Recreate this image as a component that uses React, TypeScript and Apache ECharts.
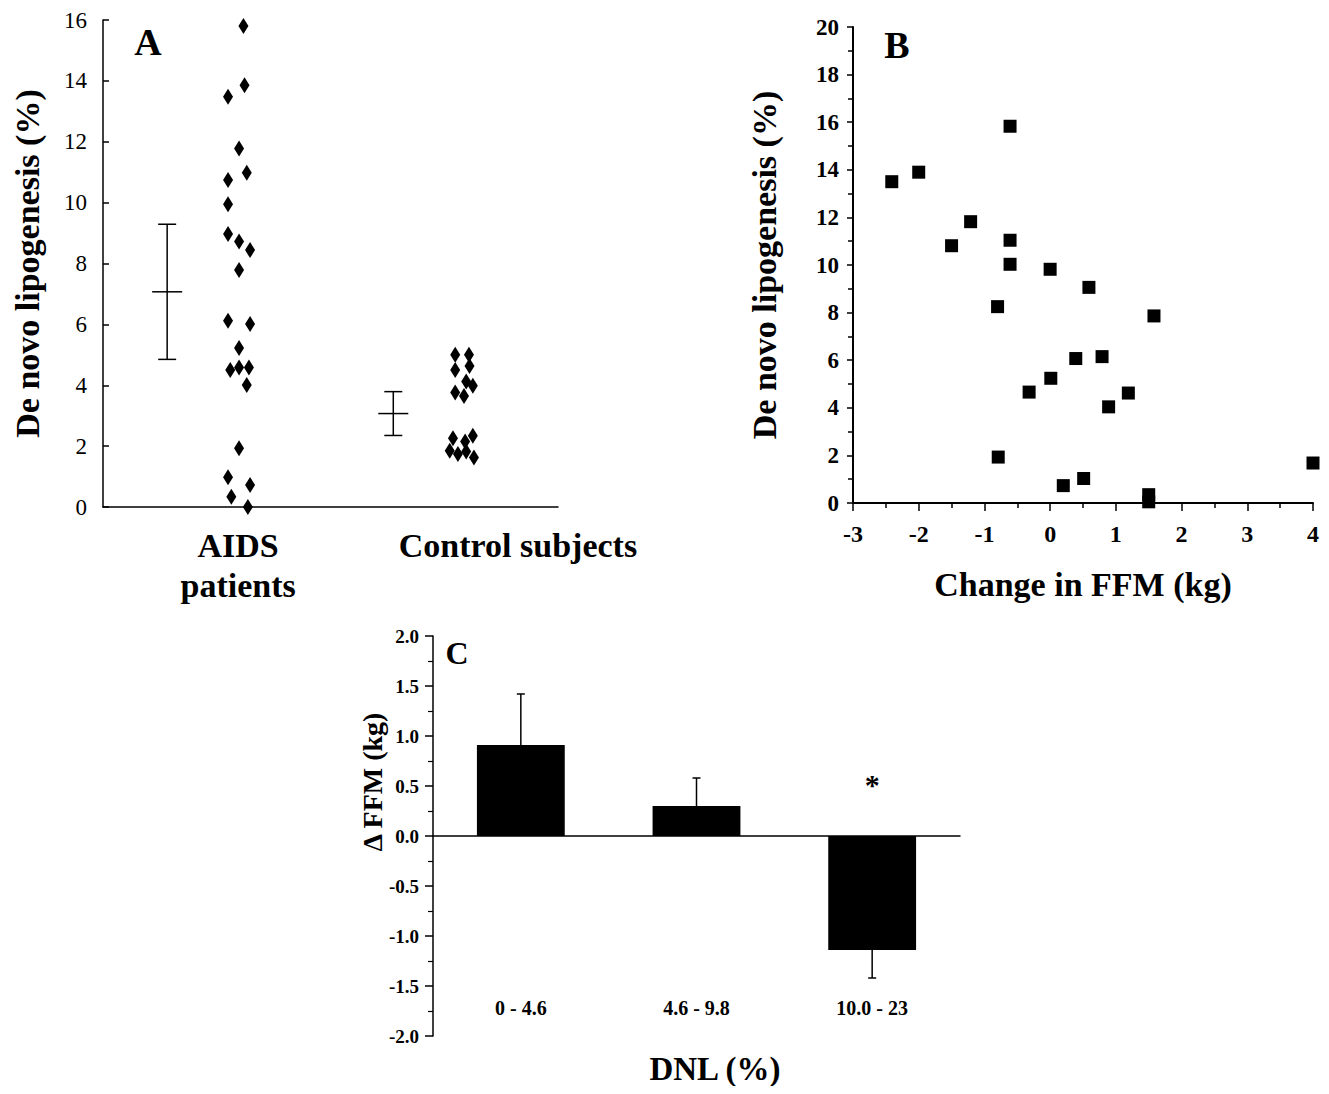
import React, { useEffect, useRef } from "react";
import * as echarts from "echarts";

const FONT = '"Liberation Serif", "Times New Roman", Times, serif';

// ---------- Panel A: DNL by group (dot plot) ----------
const groupNames = ["AIDS\npatients", "Control subjects"];
const aidsDnl = [15.8, 13.86, 13.48, 11.78, 10.98, 10.74, 9.95, 8.97, 8.72, 8.44, 7.79, 6.12, 6.01, 5.22, 4.5, 4.58, 4.58, 4.01, 1.93, 0.98, 0.72, 0.34, 0.0];
const aidsColumn = [0.4, 0.5, -1, 0, 0.7, -1, -1, -1, 0, 1, 0, -1, 1, 0, -0.8, 0, 0.9, 0.7, 0, -1, 1, -0.7, 0.8];
const controlDnl = [5.0, 5.0, 4.5, 4.63, 4.12, 3.98, 3.76, 3.65, 2.26, 2.34, 2.15, 1.85, 1.74, 1.82, 1.63];
const controlColumn = [-0.7, 0.55, -0.7, 0.6, 0.3, 0.9, -0.7, 0.1, -0.9, 0.9, 0.2, -1.2, -0.45, 0.3, 1.0];
const groupMean = [7.07, 3.07];
const groupSd = [2.22, 0.72];
const aTickValues = [0, 2, 4, 6, 8, 10, 12, 14, 16];

// ---------- Panel B: DNL vs change in FFM ----------
const ffmChange = [-2.41, -2.0, -0.61, -1.21, -1.5, -0.61, -0.61, 0.0, 0.59, -0.8, 1.58, 0.39, 0.79, 0.01, -0.32, 1.19, 0.89, -0.79, 4.0, 0.51, 0.2, 1.5, 1.5];
const dnlB = [13.5, 13.9, 15.83, 11.82, 10.81, 11.04, 10.03, 9.82, 9.06, 8.25, 7.86, 6.07, 6.15, 5.24, 4.66, 4.62, 4.04, 1.93, 1.68, 1.03, 0.73, 0.35, 0.05];

// ---------- Panel C: change in FFM by DNL tertile ----------
const dnlBins = ["0 - 4.6", "4.6 - 9.8", "10.0 - 23"];
const ffmMean = [0.91, 0.3, -1.14];
const ffmErr = [0.51, 0.28, 0.28];
const significance = ["", "", "*"];

// layout of panel A's horizontal (unit-less) axis
const A_X_MAX = 10;
const groupDotX = [2.99, 7.91];
const groupBarX = [1.41, 6.38];
const groupLabelX = [2.97, 9.12];
const COL_STEP = 0.242;

export default function App() {
  const ref = useRef<HTMLDivElement>(null);

  useEffect(() => {
    if (!ref.current) return;
    const chart = echarts.init(ref.current, null, { renderer: "svg" });

    const aidsPoints = aidsDnl.map((v, i) => [groupDotX[0] + aidsColumn[i] * COL_STEP, v]);
    const controlPoints = controlDnl.map((v, i) => [groupDotX[1] + controlColumn[i] * COL_STEP, v]);
    const bPoints = ffmChange.map((x, i) => [x, dnlB[i]]);

    const black = "#000";
    const axisLineStyle = (w: number) => ({ show: true, onZero: false, lineStyle: { color: black, width: w } });

    const option: any = {
      animation: false,
      backgroundColor: "#fff",
      textStyle: { fontFamily: FONT, color: black },
      grid: [
        { left: 95, top: 12, width: 455, height: 487, outerBoundsMode: "none", containLabel: false },
        { left: 845, top: 19, width: 460, height: 476, outerBoundsMode: "none", containLabel: false },
        { left: 425, top: 628, width: 527, height: 400, outerBoundsMode: "none", containLabel: false },
      ],
      xAxis: [
        {
          gridIndex: 0,
          type: "value",
          min: 0,
          max: A_X_MAX,
          axisLine: axisLineStyle(1.5),
          axisTick: { show: false },
          splitLine: { show: false },
          axisLabel: {
            customValues: groupLabelX,
            formatter: (v: number) => {
              let best = 0;
              groupLabelX.forEach((g, i) => {
                if (Math.abs(g - v) < Math.abs(groupLabelX[best] - v)) best = i;
              });
              return groupNames[best];
            },
            fontFamily: FONT,
            fontWeight: "bold",
            fontSize: 34,
            lineHeight: 40,
            color: black,
            margin: 18,
          },
        },
        {
          gridIndex: 1,
          type: "value",
          min: -3,
          max: 4,
          interval: 1,
          axisLine: axisLineStyle(2),
          axisTick: { show: true, length: 8, lineStyle: { color: black, width: 1.5 } },
          minorTick: { show: true, splitNumber: 2, length: 5, lineStyle: { color: black, width: 1.5 } },
          splitLine: { show: false },
          axisLabel: { fontFamily: FONT, fontWeight: "bold", fontSize: 24, color: black, margin: 19 },
          name: "Change in FFM (kg)",
          nameLocation: "middle",
          nameGap: 64,
          nameTextStyle: { fontFamily: FONT, fontWeight: "bold", fontSize: 34, color: black },
        },
        {
          // category labels of panel C, sitting inside the plot near its bottom
          gridIndex: 2,
          type: "category",
          data: dnlBins,
          position: "bottom",
          offset: -40,
          axisLine: { show: false, onZero: false },
          axisTick: { show: false },
          splitLine: { show: false },
          axisLabel: { fontFamily: FONT, fontWeight: "bold", fontSize: 20, color: black, margin: 2 },
        },
        {
          // zero line of panel C
          gridIndex: 2,
          type: "category",
          data: dnlBins,
          axisLine: { show: true, onZero: true, lineStyle: { color: black, width: 1.5 } },
          axisTick: { show: false },
          axisLabel: { show: false },
          splitLine: { show: false },
        },
      ],
      yAxis: [
        {
          gridIndex: 0,
          type: "value",
          min: aTickValues[0],
          max: aTickValues[aTickValues.length - 1],
          interval: 2,
          axisLine: axisLineStyle(1.5),
          axisTick: { show: true, inside: true, length: 6, lineStyle: { color: black, width: 1.5 } },
          splitLine: { show: false },
          axisLabel: { fontFamily: FONT, fontSize: 23, color: black, margin: 16 },
          name: "De novo lipogenesis (%)",
          nameLocation: "middle",
          nameGap: 59,
          nameTextStyle: { fontFamily: FONT, fontWeight: "bold", fontSize: 34, color: black },
        },
        {
          gridIndex: 1,
          type: "value",
          min: 0,
          max: 20,
          interval: 2,
          axisLine: axisLineStyle(2),
          axisTick: { show: true, length: 6, lineStyle: { color: black, width: 1.5 } },
          minorTick: { show: true, splitNumber: 2, length: 5, lineStyle: { color: black, width: 1.5 } },
          splitLine: { show: false },
          axisLabel: { fontFamily: FONT, fontWeight: "bold", fontSize: 23, color: black, margin: 14 },
          name: "De novo lipogenesis (%)",
          nameLocation: "middle",
          nameGap: 72,
          nameTextStyle: { fontFamily: FONT, fontWeight: "bold", fontSize: 34, color: black },
        },
        {
          gridIndex: 2,
          type: "value",
          min: -2,
          max: 2,
          interval: 0.5,
          axisLine: axisLineStyle(1.5),
          axisTick: { show: true, length: 8, lineStyle: { color: black, width: 1.5 } },
          minorTick: { show: true, splitNumber: 2, length: 5, lineStyle: { color: black, width: 1.2 } },
          splitLine: { show: false },
          axisLabel: {
            fontFamily: FONT,
            fontWeight: "bold",
            fontSize: 19,
            color: black,
            margin: 14,
            formatter: (v: number) => v.toFixed(1),
          },
        },
      ],
      series: [
        {
          type: "scatter",
          xAxisIndex: 0,
          yAxisIndex: 0,
          symbol: "diamond",
          symbolSize: [10, 16],
          itemStyle: { color: black, opacity: 1 },
          data: aidsPoints,
        },
        {
          type: "scatter",
          xAxisIndex: 0,
          yAxisIndex: 0,
          symbol: "diamond",
          symbolSize: [10, 16],
          itemStyle: { color: black, opacity: 1 },
          data: controlPoints,
        },
        {
          type: "custom",
          xAxisIndex: 0,
          yAxisIndex: 0,
          data: groupMean.map((m, i) => [groupBarX[i], m, groupSd[i]]),
          renderItem: (params: any, api: any) => {
            const x = api.value(0);
            const m = api.value(1);
            const sd = api.value(2);
            const top = api.coord([x, m + sd]);
            const bot = api.coord([x, m - sd]);
            const mid = api.coord([x, m]);
            const cap = 9;
            const half = 15;
            const style = { stroke: black, lineWidth: 1.5 };
            return {
              type: "group",
              children: [
                { type: "line", shape: { x1: top[0], y1: top[1], x2: bot[0], y2: bot[1] }, style },
                { type: "line", shape: { x1: top[0] - cap, y1: top[1], x2: top[0] + cap, y2: top[1] }, style },
                { type: "line", shape: { x1: bot[0] - cap, y1: bot[1], x2: bot[0] + cap, y2: bot[1] }, style },
                { type: "line", shape: { x1: mid[0] - half, y1: mid[1], x2: mid[0] + half, y2: mid[1] }, style },
              ],
            };
          },
        },
        {
          type: "scatter",
          xAxisIndex: 1,
          yAxisIndex: 1,
          symbol: "rect",
          symbolSize: 13,
          itemStyle: { color: black, opacity: 1 },
          data: bPoints,
        },
        {
          type: "bar",
          xAxisIndex: 2,
          yAxisIndex: 2,
          barWidth: "50%",
          itemStyle: { color: black },
          data: ffmMean,
        },
        {
          type: "custom",
          xAxisIndex: 2,
          yAxisIndex: 2,
          data: ffmMean.map((m, i) => [i, m, ffmErr[i]]),
          renderItem: (params: any, api: any) => {
            const i = api.value(0);
            const m = api.value(1);
            const e = api.value(2);
            const sign = m >= 0 ? 1 : -1;
            const p0 = api.coord([i, m]);
            const p1 = api.coord([i, m + sign * e]);
            const zero = api.coord([i, 0]);
            const cap = 4;
            const style = { stroke: black, lineWidth: 1.5 };
            const children: any[] = [
              { type: "line", shape: { x1: p0[0], y1: p0[1], x2: p1[0], y2: p1[1] }, style },
              { type: "line", shape: { x1: p1[0] - cap, y1: p1[1], x2: p1[0] + cap, y2: p1[1] }, style },
            ];
            const mark = significance[params.dataIndex];
            if (mark) {
              children.push({
                type: "text",
                x: zero[0],
                y: zero[1] - 52,
                style: {
                  text: mark,
                  fontFamily: FONT,
                  fontWeight: "bold",
                  fontSize: 30,
                  fill: black,
                  align: "center",
                  verticalAlign: "middle",
                },
              });
            }
            return { type: "group", children };
          },
        },
      ],
      graphic: [
        {
          type: "text",
          x: 140,
          y: 34,
          style: { text: "A", fontFamily: FONT, fontWeight: "bold", fontSize: 38, fill: black, align: "center", verticalAlign: "middle" },
        },
        {
          type: "text",
          x: 889,
          y: 37,
          style: { text: "B", fontFamily: FONT, fontWeight: "bold", fontSize: 38, fill: black, align: "center", verticalAlign: "middle" },
        },
        {
          type: "text",
          x: 449,
          y: 645,
          style: { text: "C", fontFamily: FONT, fontWeight: "bold", fontSize: 32, fill: black, align: "center", verticalAlign: "middle" },
        },
        {
          type: "text",
          x: 364,
          y: 774,
          rotation: Math.PI / 2,
          style: { text: "Δ FFM (kg)", fontFamily: FONT, fontWeight: "bold", fontSize: 28, fill: black, align: "center", verticalAlign: "middle" },
        },
        {
          type: "text",
          x: 707,
          y: 1061,
          style: { text: "DNL (%)", fontFamily: FONT, fontWeight: "bold", fontSize: 33, fill: black, align: "center", verticalAlign: "middle" },
        },
      ],
    };

    chart.setOption(option);
    return () => chart.dispose();
  }, []);

  return <div ref={ref} style={{ width: 1313, height: 1078 }} />;
}
